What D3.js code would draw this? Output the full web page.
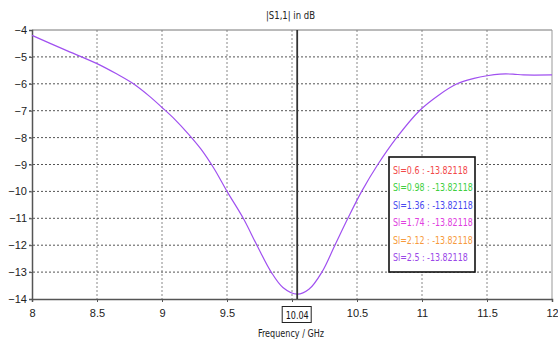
<!DOCTYPE html>
<html>
<head>
<meta charset="utf-8">
<script src="https://cdn.jsdelivr.net/npm/d3@7"></script>
<style>
  body { margin: 0; background: #fff; }
  svg { display: block; font-family: "DejaVu Sans Condensed", "Liberation Sans", sans-serif; }
</style>
</head>
<body>
<svg id="chart" width="558" height="341"></svg>
<script>
// frequency in GHz / |S1,1| in dB
const freq = [8.0, 8.25, 8.5, 8.65, 8.78, 8.9, 9.0, 9.1, 9.2, 9.3, 9.4, 9.5, 9.625, 9.73, 9.84, 9.93, 10.04, 10.13, 10.23, 10.33, 10.43, 10.536, 10.66, 10.805, 10.98, 11.12, 11.27, 11.4, 11.5, 11.6, 11.7, 11.78, 12.0]
const s11 = [-4.2, -4.73, -5.25, -5.63, -6.0, -6.45, -6.88, -7.33, -7.85, -8.43, -9.15, -10.0, -11.0, -12.0, -13.0, -13.57, -13.82, -13.64, -13.0, -12.0, -11.0, -10.0, -9.0, -8.0, -7.0, -6.45, -6.0, -5.8, -5.7, -5.64, -5.64, -5.67, -5.67]

const xTicks = [8, 8.5, 9, 9.5, 10, 10.5, 11, 11.5, 12]
const yTicks = [-4, -5, -6, -7, -8, -9, -10, -11, -12, -13, -14]

const markerFreq = 10.04
const markerLabel = '10.04'
const siValues = ['0.6', '0.98', '1.36', '1.74', '2.12', '2.5']
const siColors = ['#f24848', '#3fcf3f', '#4848f0', '#e040e0', '#f79a3c', '#9a48e8']
const markerValue = '-13.82118'

const svg = d3.select('#chart')
const mLeft = 32, mRight = 552, mTop = 30, mBottom = 299

const x = d3.scaleLinear().domain([8, 12]).range([mLeft, mRight])
const y = d3.scaleLinear().domain([-14, -4]).range([mBottom, mTop])

// grid
svg.append('g').selectAll('line')
  .data(xTicks.slice(1, -1))
  .join('line')
  .attr('x1', d => x(d)).attr('x2', d => x(d))
  .attr('y1', mTop).attr('y2', mBottom + 3)
  .attr('stroke', '#888').attr('stroke-dasharray', '2,2')

svg.append('g').selectAll('line')
  .data(yTicks.slice(1, -1))
  .join('line')
  .attr('x1', mLeft - 3).attr('x2', mRight)
  .attr('y1', d => y(d)).attr('y2', d => y(d))
  .attr('stroke', '#555').attr('stroke-dasharray', '2,2')

// frame
svg.append('line').attr('x1', mLeft).attr('x2', mRight).attr('y1', mTop).attr('y2', mTop).attr('stroke', '#777')
svg.append('line').attr('x1', mRight).attr('x2', mRight).attr('y1', mTop).attr('y2', mBottom).attr('stroke', '#999')

// axes (the marker box hides the "10" label, as in the original)
const xAxis = svg.append('g')
  .attr('transform', `translate(0,${mBottom})`)
  .call(d3.axisBottom(x).tickValues(xTicks)
    .tickFormat(d => d === 10 ? '' : d3.format('')(d)).tickSize(3).tickPadding(7))
xAxis.select('.domain').attr('stroke', '#555').attr('stroke-width', 1.5)
xAxis.selectAll('.tick line').attr('stroke', '#555')
xAxis.selectAll('text').attr('font-size', 11).attr('fill', '#222')

const yAxis = svg.append('g')
  .attr('transform', `translate(${mLeft},0)`)
  .call(d3.axisLeft(y).tickValues(yTicks).tickFormat(d3.format('')).tickSize(3).tickPadding(2))
yAxis.select('.domain').attr('stroke', '#555').attr('stroke-width', 1.5)
yAxis.selectAll('.tick line').attr('stroke', '#555')
yAxis.selectAll('text').attr('font-size', 11).attr('fill', '#222')

// curve
const line = d3.line()
  .x((d, i) => x(freq[i]))
  .y(d => y(d))
  .curve(d3.curveCatmullRom.alpha(0.5))

svg.append('path')
  .datum(s11)
  .attr('d', line)
  .attr('fill', 'none')
  .attr('stroke', '#a050f0')
  .attr('stroke-width', 1.2)

// marker
svg.append('line')
  .attr('x1', x(markerFreq)).attr('x2', x(markerFreq))
  .attr('y1', mTop).attr('y2', mBottom)
  .attr('stroke', '#333').attr('stroke-width', 1.8)

svg.append('rect')
  .attr('x', x(markerFreq) - 15).attr('y', mBottom + 7.5)
  .attr('width', 29).attr('height', 16)
  .attr('fill', '#fff').attr('stroke', '#222')
svg.append('text')
  .attr('x', x(markerFreq) - 11.5).attr('y', mBottom + 20)
  .attr('font-size', 11).attr('fill', '#111')
  .attr('textLength', 23).attr('lengthAdjust', 'spacingAndGlyphs')
  .text(markerLabel)

// titles
svg.append('text')
  .attr('x', 266).attr('y', 19)
  .attr('font-size', 11).attr('fill', '#222')
  .attr('textLength', 49).attr('lengthAdjust', 'spacingAndGlyphs')
  .text('|S1,1| in dB')

svg.append('text')
  .attr('x', 258).attr('y', 337)
  .attr('font-size', 11).attr('fill', '#222')
  .attr('textLength', 66).attr('lengthAdjust', 'spacingAndGlyphs')
  .text('Frequency / GHz')

// legend box
const lg = svg.append('g').attr('transform', 'translate(389,157)')
lg.append('rect')
  .attr('width', 86).attr('height', 115)
  .attr('fill', '#fff').attr('stroke', '#111').attr('stroke-width', 1.6)
lg.append('g')
  .attr('transform', 'translate(4,0) scale(0.8,1)')
  .selectAll('text')
  .data(siValues)
  .join('text')
  .attr('x', 0)
  .attr('y', (d, i) => 17 + i * 17.4)
  .attr('font-size', 11)
  .attr('fill', (d, i) => siColors[i])
  .text(d => `Sl=${d} : ${markerValue}`)
</script>
</body>
</html>
